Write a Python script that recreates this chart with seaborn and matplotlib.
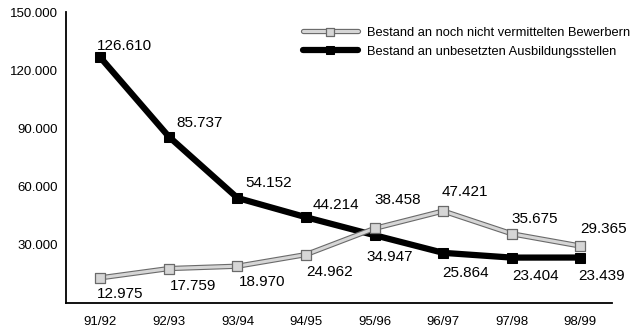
import matplotlib
matplotlib.use('Agg')
import matplotlib.pyplot as plt
import matplotlib.patheffects as pe
from matplotlib.legend_handler import HandlerTuple
import seaborn as sns
import pandas as pd

# Daten
jahre = ['91/92', '92/93', '93/94', '94/95', '95/96', '96/97', '97/98', '98/99']
bewerber = [12975, 17759, 18970, 24962, 38458, 47421, 35675, 29365]
stellen = [126610, 85737, 54152, 44214, 34947, 25864, 23404, 23439]
name_bewerber = 'Bestand an noch nicht vermittelten Bewerbern'
name_stellen = 'Bestand an unbesetzten Ausbildungsstellen'
y_ticks = [30000, 60000, 90000, 120000, 150000]

# Beschriftungs-Versatz in Pixel (dx, dy)
off_stellen = [(-3, 11), (8, 14), (8, 15), (7, 12), (-8, -22), (-1, -20), (0, -18), (-2, -18)]
off_bewerber = [(-3, -16), (1, -17), (1, -16), (0, -17), (0, 28), (-2, 19), (0, 15), (0, 17)]

sns.set_style('white')
plt.rcParams['font.family'] = ['Liberation Sans', 'DejaVu Sans']
plt.rcParams['text.color'] = 'black'
plt.rcParams['xtick.color'] = 'black'
plt.rcParams['ytick.color'] = 'black'

df = pd.DataFrame({'pos': range(len(jahre)), 'bewerber': bewerber, 'stellen': stellen})

fig = plt.figure(figsize=(6.37, 3.29), dpi=100)
ax = fig.add_axes([0.1036, 0.079, 0.857, 0.8845])

sns.lineplot(data=df, x='pos', y='stellen', ax=ax, color='black', linewidth=4.5,
             marker='s', markersize=7, markeredgecolor='black', zorder=3)
l_stellen = ax.lines[-1]
# graue Doppellinie: Linie mit Kontur, Marker separat
sns.lineplot(data=df, x='pos', y='bewerber', ax=ax, color='#d6d6d6', linewidth=2.2, zorder=4)
l_bew = ax.lines[-1]
l_bew.set_path_effects([pe.withStroke(linewidth=3.8, foreground='#6a6a6a')])
sns.scatterplot(data=df, x='pos', y='bewerber', ax=ax, marker='s', s=42, color='#d6d6d6',
                edgecolor='#6a6a6a', linewidth=0.9, zorder=5)
m_bew = ax.collections[-1]

px = 0.72
for i, v in enumerate(stellen):
    dx, dy = off_stellen[i]
    ax.annotate(f'{v:,}'.replace(',', '.'), (i, v), xytext=(dx * px, dy * px),
                textcoords='offset points', ha='left', va='center', fontsize=11, zorder=6)
for i, v in enumerate(bewerber):
    dx, dy = off_bewerber[i]
    ax.annotate(f'{v:,}'.replace(',', '.'), (i, v), xytext=(dx * px, dy * px),
                textcoords='offset points', ha='left', va='center', fontsize=11, zorder=6)

ax.set_xlim(-0.5, 7.46)
ax.set_ylim(0, 150000)
ax.set_xticks(range(len(jahre)))
ax.set_xticklabels(jahre)
ax.set_yticks(y_ticks)
ax.set_yticklabels([f'{t:,}'.replace(',', '.') for t in y_ticks])
ax.set_xlabel('')
ax.set_ylabel('')
for s in ['top', 'right']:
    ax.spines[s].set_visible(False)
for s in ['left', 'bottom']:
    ax.spines[s].set_color('black')
    ax.spines[s].set_linewidth(1.3)
ax.tick_params(axis='both', direction='in', length=8, width=1.3, labelsize=9.5)
ax.tick_params(axis='x', pad=9)
ax.tick_params(axis='y', pad=6)

ax.legend([(l_bew, m_bew), l_stellen], [name_bewerber, name_stellen],
          handler_map={tuple: HandlerTuple(ndivide=1, pad=0)},
          loc='upper left', bbox_to_anchor=(0.412, 0.99), frameon=False,
          fontsize=9.3, handlelength=4.3, handletextpad=0.7, labelspacing=0.55,
          markerscale=0.8)

fig.savefig('out.png', dpi=100)
